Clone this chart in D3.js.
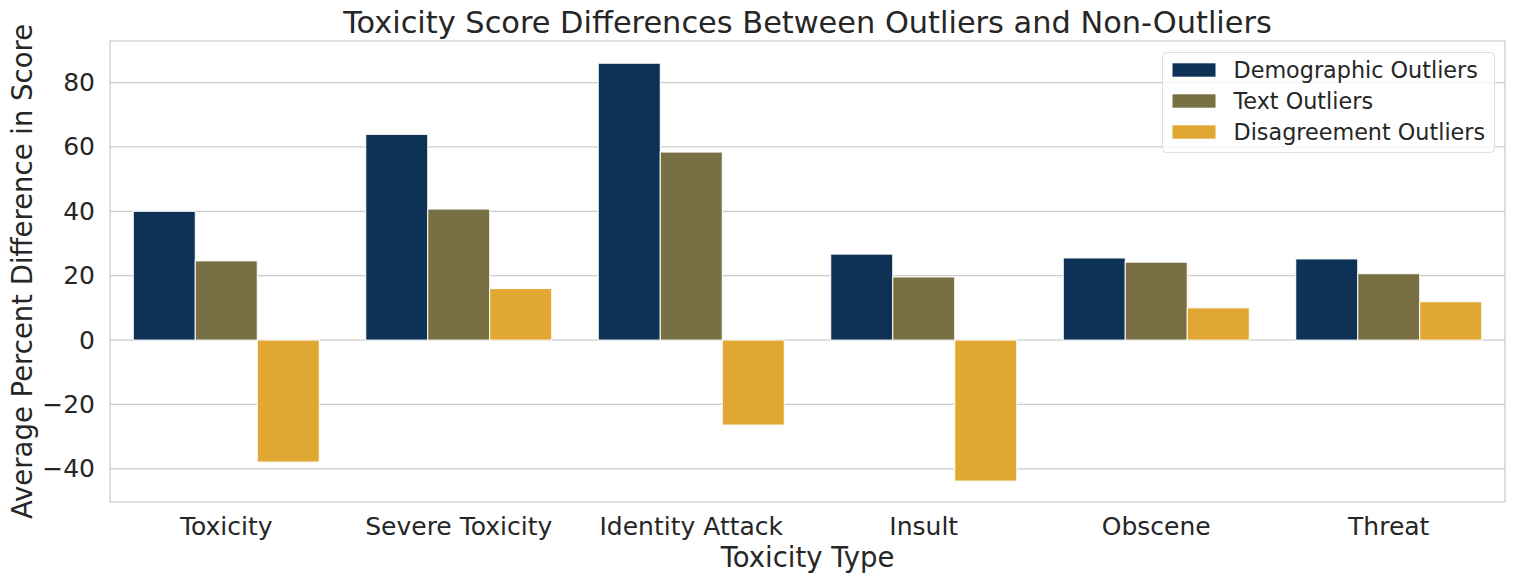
<!DOCTYPE html>
<html>
<head>
<meta charset="utf-8">
<script src="https://cdn.jsdelivr.net/npm/d3@7"></script>
<style>
  body { margin: 0; background: #fff; }
  text { font-family: "DejaVu Sans", sans-serif; fill: #262626; }
</style>
</head>
<body>
<svg width="1514" height="584"></svg>
<script>
// data
const categories = ['Toxicity', 'Severe Toxicity', 'Identity Attack', 'Insult', 'Obscene', 'Threat'];
const seriesNames = ['Demographic Outliers', 'Text Outliers', 'Disagreement Outliers'];
const demographic = [40.0, 63.9, 86.0, 26.7, 25.5, 25.2];
const textOutliers = [24.6, 40.7, 58.4, 19.6, 24.2, 20.6];
const disagreement = [-37.9, 16.0, -26.4, -43.8, 10.0, 11.9];
const yTicks = [-40, -20, 0, 20, 40, 60, 80];
const colors = ['#0d3256', '#786f43', '#e0a832'];

const svg = d3.select('svg');
const margin = {left: 110, right: 9, top: 41, bottom: 82};
const width = 1514, height = 584;

const x = d3.scaleBand().domain(categories)
    .range([margin.left, width - margin.right]).padding(0);
const y = d3.scaleLinear().domain([-50.3, 92.9]).range([height - margin.bottom, margin.top]);

// grid
svg.append('g').selectAll('line').data(yTicks).enter().append('line')
    .attr('x1', margin.left).attr('x2', width - margin.right)
    .attr('y1', d => y(d)).attr('y2', d => y(d))
    .attr('stroke', '#cccccc').attr('stroke-width', 1.25);

// bars (seaborn style: 80% of the slot split over the hue levels)
const rows = categories.map((c, i) => ({cat: c, vals: [demographic[i], textOutliers[i], disagreement[i]]}));
const barW = x.bandwidth() * 0.8 / seriesNames.length;
const g = svg.append('g').selectAll('g').data(rows).enter().append('g');
g.selectAll('rect').data(d => d.vals.map((v, j) => ({cat: d.cat, v: v, j: j}))).enter().append('rect')
    .attr('x', d => x(d.cat) + x.bandwidth() * 0.1 + d.j * barW)
    .attr('width', barW)
    .attr('y', d => y(Math.max(0, d.v)))
    .attr('height', d => Math.abs(y(d.v) - y(0)))
    .attr('fill', d => colors[d.j])
    .attr('stroke', '#ffffff').attr('stroke-width', 1);

// frame
svg.append('rect')
    .attr('x', margin.left).attr('y', margin.top)
    .attr('width', width - margin.left - margin.right)
    .attr('height', height - margin.top - margin.bottom)
    .attr('fill', 'none').attr('stroke', '#cccccc').attr('stroke-width', 1.25);

// axes
const xAxis = svg.append('g')
    .attr('transform', `translate(0,${height - margin.bottom})`)
    .call(d3.axisBottom(x).tickSize(0).tickPadding(15));
xAxis.select('.domain').remove();
xAxis.selectAll('text').style('font-size', '25px').attr('fill', '#262626');

const yAxis = svg.append('g')
    .attr('transform', `translate(${margin.left},0)`)
    .call(d3.axisLeft(y).tickValues(yTicks).tickSize(0).tickPadding(15)
        .tickFormat(d => d < 0 ? '\u2212' + Math.abs(d) : d));
yAxis.select('.domain').remove();
yAxis.selectAll('text').style('font-size', '25px').attr('fill', '#262626');

// labels
svg.append('text').attr('x', (margin.left + width - margin.right) / 2).attr('y', 33)
    .attr('text-anchor', 'middle')
    .style('font-size', '30.4px').text('Toxicity Score Differences Between Outliers and Non-Outliers');
svg.append('text').attr('x', (margin.left + width - margin.right) / 2).attr('y', 567)
    .attr('text-anchor', 'middle').style('font-size', '27.5px').text('Toxicity Type');
svg.append('text')
    .attr('transform', `translate(32,${(margin.top + height - margin.bottom) / 2}) rotate(-90)`)
    .attr('text-anchor', 'middle').style('font-size', '27.5px')
    .text('Average Percent Difference in Score');

// legend
const leg = svg.append('g').attr('transform', 'translate(1162.5,52.5)');
leg.append('rect').attr('width', 332).attr('height', 100).attr('rx', 4)
    .attr('fill', '#fff').attr('fill-opacity', 0.8).attr('stroke', '#dddddd');
const item = leg.selectAll('g.item').data(seriesNames).enter().append('g')
    .attr('transform', (d, i) => `translate(10,${17.5 + i * 31})`);
item.append('rect').attr('y', -6.7).attr('width', 43).attr('height', 13.4)
    .attr('fill', (d, i) => colors[i]);
item.append('text').attr('x', 61).attr('y', 7.8).style('font-size', '22.3px').text(d => d);
</script>
</body>
</html>
